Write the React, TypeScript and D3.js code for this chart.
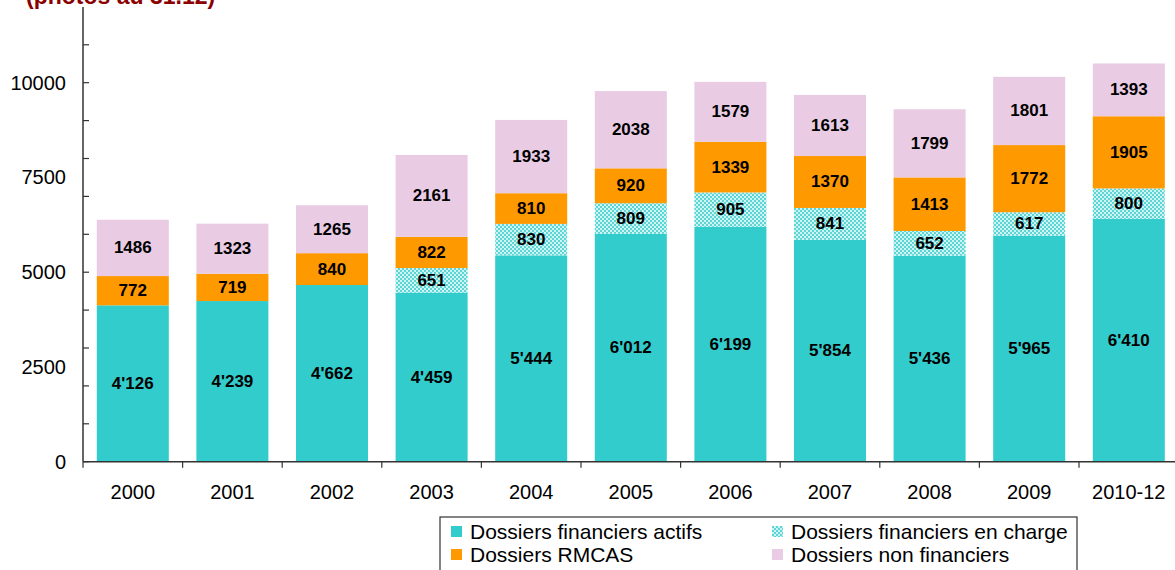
import * as d3 from 'd3';

const years = ['2000', '2001', '2002', '2003', '2004', '2005', '2006', '2007', '2008', '2009', '2010-12'];
const actifs = [4126, 4239, 4662, 4459, 5444, 6012, 6199, 5854, 5436, 5965, 6410];
const enCharge = [0, 0, 0, 651, 830, 809, 905, 841, 652, 617, 800];
const rmcas = [772, 719, 840, 822, 810, 920, 1339, 1370, 1413, 1772, 1905];
const nonFin = [1486, 1323, 1265, 2161, 1933, 2038, 1579, 1613, 1799, 1801, 1393];

const yLabels = [0, 2500, 5000, 7500, 10000];
const yMinor = d3.range(0, 12000, 1000);

const seriesNames = [
  'Dossiers financiers actifs',
  'Dossiers financiers en charge',
  'Dossiers RMCAS',
  'Dossiers non financiers',
];
const colors = ['#33CCCC', 'url(#hatch)', '#FF9900', '#E9CCE4'];
const series = [actifs, enCharge, rmcas, nonFin];

const font = '"Liberation Sans", Arial, sans-serif';

export default function App() {
  const x = d3.scaleBand<string>().domain(years).range([83, 1178.6]).paddingInner(0.277).paddingOuter(0.1385);
  const y = d3.scaleLinear().domain([0, 12000]).range([461.7, 6.9]);

  const stack = d3.stack<number>().keys(['0', '1', '2', '3']).value((i, k) => series[+k][i]);
  const layers = stack(d3.range(years.length));

  // 4126 -> 4'126 for the first series
  const fmt = (v: number, s: number) => (s === 0 ? `${Math.floor(v / 1000)}'${String(v % 1000).padStart(3, '0')}` : String(v));

  const legend = [
    { name: seriesNames[0], fill: colors[0], lx: 451, ly: 532 },
    { name: seriesNames[1], fill: colors[1], lx: 772, ly: 532 },
    { name: seriesNames[2], fill: colors[2], lx: 451, ly: 555 },
    { name: seriesNames[3], fill: colors[3], lx: 772, ly: 555 },
  ];

  return (
    <svg width={1175} height={570} style={{ position: 'absolute', left: 0, top: 0, background: '#fff' }} fontFamily={font}>
      <defs>
        <pattern id="hatch" width={4} height={4} patternUnits="userSpaceOnUse">
          <rect width={4} height={4} fill="#5CD5D5" />
          <rect width={2} height={2} fill="#CFF3F3" />
          <rect x={2} y={2} width={2} height={2} fill="#CFF3F3" />
        </pattern>
      </defs>

      <text x={26} y={4} fill="#8B0000" fontSize={23} fontWeight="bold">(photos au 31.12)</text>

      {layers.map((layer, s) =>
        layer.map((d, i) => {
          const v = series[s][i];
          if (!v) return null;
          const top = y(d[1]);
          const bot = y(d[0]);
          return (
            <g key={`${s}-${i}`}>
              <rect x={x(years[i])} y={top} width={x.bandwidth()} height={bot - top} fill={colors[s]} />
              <text
                x={(x(years[i]) as number) + x.bandwidth() / 2}
                y={(top + bot) / 2 - 0.5}
                dy="0.35em"
                textAnchor="middle"
                fontSize={17}
                fontWeight="bold"
                fill="#000"
              >
                {fmt(v, s)}
              </text>
            </g>
          );
        })
      )}

      {/* y axis */}
      <line x1={83} x2={83} y1={y(12000)} y2={y(0)} stroke="#333" strokeWidth={1.5} />
      {yMinor.map((t) => (
        <line key={t} x1={83} x2={89} y1={y(t)} y2={y(t)} stroke="#333" strokeWidth={1.2} />
      ))}
      {yLabels.map((t) => (
        <text key={t} x={66} y={y(t)} dy="0.35em" textAnchor="end" fontSize={20} fill="#000">{t}</text>
      ))}

      {/* x axis */}
      <line x1={83} x2={1175} y1={y(0)} y2={y(0)} stroke="#333" strokeWidth={1.5} />
      {d3.range(years.length + 1).map((i) => (
        <line key={i} x1={83 + x.step() * i} x2={83 + x.step() * i} y1={y(0)} y2={y(0) + 6} stroke="#333" strokeWidth={1.2} />
      ))}
      {years.map((yr) => (
        <text key={yr} x={(x(yr) as number) + x.bandwidth() / 2} y={492} dy="0.35em" textAnchor="middle" fontSize={20} fill="#000">{yr}</text>
      ))}

      {/* legend */}
      <rect x={440} y={517} width={637} height={60} fill="#fff" stroke="#333" strokeWidth={1.2} />
      {legend.map((l) => (
        <g key={l.name}>
          <rect x={l.lx} y={l.ly - 6} width={11} height={11} fill={l.fill} />
          <text x={l.lx + 19} y={l.ly} dy="0.35em" fontSize={21} fill="#000">{l.name}</text>
        </g>
      ))}
    </svg>
  );
}
